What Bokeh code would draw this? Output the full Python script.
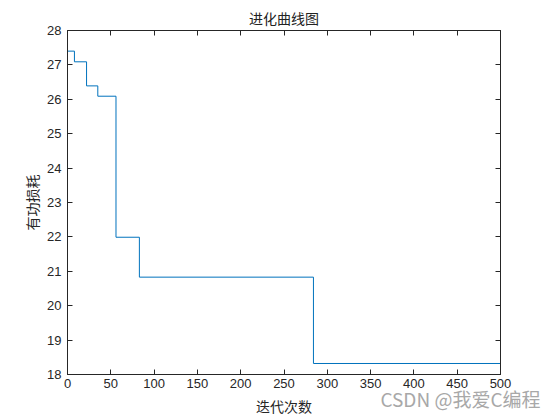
from bokeh.plotting import figure
from bokeh.models import LinearAxis, Range1d, FixedTicker, Title
from bokeh.embed import file_html
from bokeh.resources import INLINE

# Data: iteration at which the best loss changes, and the loss value from then on
change_iter = [0, 8, 22, 35, 56, 83, 284, 500]
loss_values = [27.40, 27.09, 26.39, 26.09, 21.99, 20.83, 18.32, 18.32]

x_ticks = [0, 50, 100, 150, 200, 250, 300, 350, 400, 450, 500]
y_ticks = [18, 19, 20, 21, 22, 23, 24, 25, 26, 27, 28]

title_text = "进化曲线图"
x_label = "迭代次数"
y_label = "有功损耗"
watermark = "CSDN @我爱C编程"

CJK = "Noto Sans CJK SC"
LAT = "Liberation Sans"
AX = "#262626"

p = figure(width=555, height=418, output_backend="svg", toolbar_location=None,
           x_range=Range1d(0, 500), y_range=Range1d(18, 28),
           min_border_left=67, min_border_right=55, min_border_top=30, min_border_bottom=44,
           title=title_text, x_axis_label=x_label, y_axis_label=y_label)

p.step(change_iter, loss_values, mode="after", line_color="#0072BD", line_width=1)

p.xgrid.visible = False
p.ygrid.visible = False
p.outline_line_color = AX
p.outline_line_width = 1
p.background_fill_color = "white"
p.border_fill_color = "white"

p.title.text_font = CJK
p.title.text_font_size = "14px"
p.title.text_font_style = "normal"
p.title.text_color = "#222222"
p.title.align = "center"
p.title.standoff = 5
p.title.offset = 0

def style_axis(ax, ticks, show_labels=True):
    ax.ticker = FixedTicker(ticks=ticks)
    ax.major_tick_in = 5
    ax.major_tick_out = 0
    ax.minor_tick_line_color = None
    ax.axis_line_color = AX
    ax.major_tick_line_color = AX
    if show_labels:
        ax.major_label_text_font = LAT
        ax.major_label_text_font_size = "13px"
        ax.major_label_text_color = AX
        ax.axis_label_text_font = CJK
        ax.axis_label_text_font_size = "14px"
        ax.axis_label_text_font_style = "normal"
        ax.axis_label_text_color = AX
    else:
        ax.major_label_text_font_size = "0px"
        ax.major_label_standoff = 0

style_axis(p.xaxis[0], x_ticks)
style_axis(p.yaxis[0], y_ticks)
p.xaxis[0].major_label_standoff = 4
p.xaxis[0].axis_label_standoff = 5
p.yaxis[0].major_label_standoff = 6
p.yaxis[0].axis_label_standoff = 2

top_ax = LinearAxis()
style_axis(top_ax, x_ticks, show_labels=False)
p.add_layout(top_ax, "above")
right_ax = LinearAxis()
style_axis(right_ax, y_ticks, show_labels=False)
p.add_layout(right_ax, "right")

# watermark: a title in the bottom panel, pulled up onto the axis-label row
wm = Title(text=watermark, align="right", offset=-40, standoff=-68, vertical_align="top",
           text_font=CJK, text_font_size="19px", text_font_style="normal",
           text_color="#a8a8a8")
p.add_layout(wm, "below")

open("out.html", "w").write(file_html(p, INLINE))
